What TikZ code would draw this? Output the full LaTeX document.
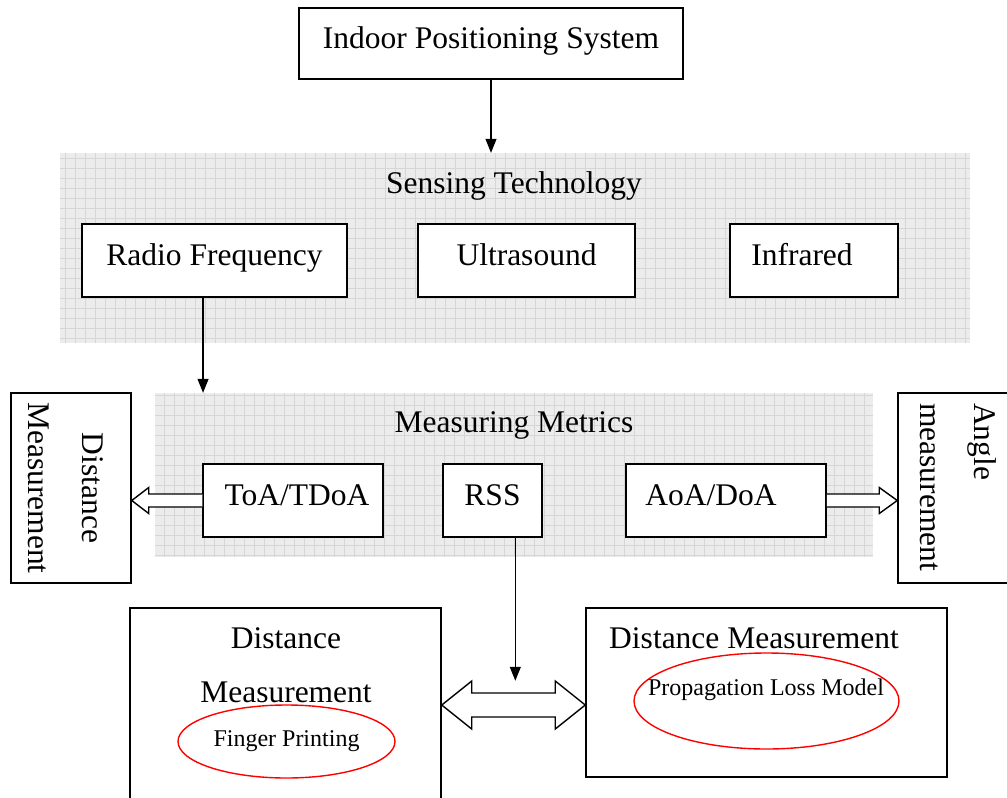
\documentclass[tikz,border=0pt]{standalone}
\usepackage{fontspec}
\setmainfont{Liberation Serif}
\usetikzlibrary{arrows.meta,calc,shapes.geometric}
\begin{document}
\begin{tikzpicture}[x=1pt,y=-1pt,
  big/.style={font=\fontsize{31.5}{54}\selectfont},
  small/.style={font=\fontsize{24}{28}\selectfont},
  box/.style={draw, line width=1.5pt, fill=white, inner sep=0pt},
  caption/.style={big, text height=21pt, text depth=11pt, inner sep=0pt},
  label box/.style={box, caption},
  panel/.style={inner sep=0pt, fill=gray!15,
    path picture={\draw[gray!32,line width=0.6pt,step=10pt]
      (path picture bounding box.south west) grid (path picture bounding box.north east);}},
  link/.style={line width=1.1pt, -{Triangle[length=14pt,width=11pt]}},
  hollow/.style={draw, line width=1.4pt, fill=white, line join=miter},
  ring/.style={draw=red, line width=1.4pt, ellipse, inner sep=0pt}
]
\useasboundingbox (0,0) rectangle (1007,798);
\clip (0,0) rectangle (1007,798);

% top level
\node[label box, minimum width=384pt, minimum height=71pt] (ips) at (491,43.5) {Indoor Positioning System};

% sensing technology panel
\node[panel, minimum width=910pt, minimum height=190pt] (sens) at (515,248) {};
\node[caption] (senst) at (514,188) {Sensing Technology};
\node[label box, minimum width=265pt, minimum height=73pt] (rf) at (214.5,260.5) {Radio Frequency};
\node[label box, minimum width=217pt, minimum height=73pt] (us) at (526.5,260.5) {Ultrasound};
\node[box, minimum width=168pt, minimum height=73pt] (ir) at (814,260.5) {};
\node[caption] (irt) at ($(ir.center)+(-12,0)$) {Infrared};

% measuring metrics panel
\node[panel, minimum width=718pt, minimum height=164pt] (met) at (514,475) {};
\node[caption] (mett) at (514,427) {Measuring Metrics};
\node[box, minimum width=180pt, minimum height=73pt] (toa) at (293,500.5) {};
\node[caption] (toat) at ($(toa.center)+(4,0)$) {ToA/TDoA};
\node[label box, minimum width=99pt, minimum height=73pt] (rss) at (492.5,500.5) {RSS};
\node[box, minimum width=200pt, minimum height=73pt] (aoa) at (726,500.5) {};
\node[caption] (aoat) at ($(aoa.center)+(-15,0)$) {AoA/DoA};

% side boxes
\node[box, minimum width=120pt, minimum height=190pt] (dm) at (71,488) {};
\node[big, rotate=-90, align=center, inner sep=0pt] (dmt) at (66,488) {Distance\\Measurement};
\node[box, minimum width=122pt, minimum height=190pt] (am) at (959,488) {};
\node[big, rotate=-90, align=left, inner sep=0pt, anchor=west] (amt) at (958.5,403) {Angle\\measurement};

% bottom boxes
\node[box, minimum width=311pt, minimum height=194pt] (bl) at (285.5,705) {};
\node[big, align=center] (blt) at (286,665) {Distance\\Measurement};
\node[ring, small, minimum width=217pt, minimum height=73pt] (fp) at (286.5,741.5) {Finger Printing};
\node[box, minimum width=361pt, minimum height=169pt] (br) at (766.5,692.5) {};
\node[big] (brt) at (754,638) {Distance Measurement};
\node[ring, minimum width=265pt, minimum height=96pt] (plm) at (766.5,701) {};
\node[small] (plmt) at (766,690) {Propagation Loss Model};

% connectors
\draw[link] (ips.south) -- (ips.south |- sens.north);
\coordinate (rfout) at ($(rf.south west)!0.457!(rf.south east)$);
\draw[link] (rfout) -- (rfout |- met.north);
\coordinate (rssout) at ($(rss.south west)!0.727!(rss.south east)$);
\coordinate (rssend) at ($(rssout)+(0,143)$);
\draw[link] (rssout) -- (rssend);

% hollow arrow to the distance box
\coordinate (dtip) at (dm.east |- toa.west);
\draw[hollow] ($(toa.west)+(0,-6.5)$) -- ($(dtip)+(17,-6.5)$) -- ($(dtip)+(17,-13)$) -- (dtip)
  -- ($(dtip)+(17,13)$) -- ($(dtip)+(17,6.5)$) -- ($(toa.west)+(0,6.5)$);
% hollow arrow to the angle box
\coordinate (atip) at (am.west |- aoa.east);
\draw[hollow] ($(aoa.east)+(0,-6.5)$) -- ($(atip)+(-18,-6.5)$) -- ($(atip)+(-18,-13)$) -- (atip)
  -- ($(atip)+(-18,13)$) -- ($(atip)+(-18,6.5)$) -- ($(aoa.east)+(0,6.5)$);
% double hollow arrow between the bottom boxes
\coordinate (L) at (bl.east);
\coordinate (R) at (br.west |- bl.east);
\draw[hollow] (L) -- ($(L)+(30,-24)$) -- ($(L)+(30,-12)$) -- ($(R)+(-30,-12)$) -- ($(R)+(-30,-24)$)
  -- (R) -- ($(R)+(-30,24)$) -- ($(R)+(-30,12)$) -- ($(L)+(30,12)$) -- ($(L)+(30,24)$) -- cycle;
\end{tikzpicture}
\end{document}
